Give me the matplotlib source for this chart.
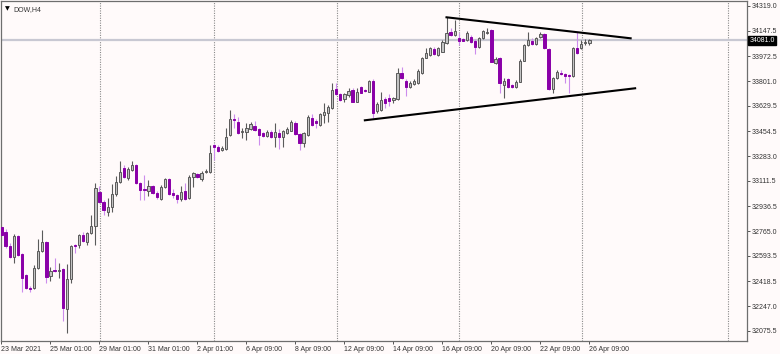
import matplotlib
import matplotlib.pyplot as plt
import numpy as np

matplotlib.use("Agg")
plt.rcParams["font.family"] = ["Liberation Sans", "DejaVu Sans"]

# H4 bars, DOW, 23 Mar 2021 .. 26 Apr 2021
opens = [
    32793, 32761, 32662, 32586, 32731, 32607, 32462, 32372, 32372, 32510,
    32628, 32690, 32455, 32496, 32490, 32503, 32227, 32434, 32669, 32669,
    32738, 32692, 32752, 32800, 33037, 32968, 32899, 32931, 33021, 33106,
    33199, 33130, 33187, 33221, 33095, 33056, 33044, 33076, 33030, 32984,
    33071, 33123, 33026, 33012, 32984, 33042, 32995, 33137, 33159, 33123,
    33171, 33175, 33359, 33348, 33325, 33334, 33428, 33539, 33520, 33451,
    33451, 33468, 33491, 33468, 33440, 33422, 33451, 33417, 33444, 33413,
    33440, 33458, 33513, 33435, 33371, 33428, 33548, 33525, 33498, 33567,
    33582, 33613, 33744, 33709, 33675, 33705, 33739, 33658, 33758, 33739,
    33727, 33803, 33594, 33601, 33677, 33682, 33670, 33675, 33854, 33803,
    33758, 33781, 33785, 33854, 33962, 33981, 34020, 33981, 34004, 34066,
    34142, 34119, 34096, 34089, 34084, 34107, 34077, 34034, 34096, 34130,
    34153, 33928, 33958, 33774, 33813, 33774, 33762, 33796, 33941, 34050,
    34079, 34055, 34107, 34126, 34020, 33744, 33820, 33858, 33848, 33843,
    33836, 34027, 34027, 34061, 34066,
]
highs = [
    32807, 32780, 32685, 32745, 32738, 32614, 32469, 32386, 32531, 32711,
    32772, 32697, 32519, 32579, 32545, 32510, 32538, 32669, 32676, 32745,
    32761, 32759, 32876, 33097, 33076, 32980, 32993, 33090, 33145, 33251,
    33221, 33208, 33251, 33228, 33104, 33152, 33118, 33083, 33042, 33083,
    33132, 33132, 33056, 33021, 33076, 33095, 33152, 33175, 33166, 33182,
    33192, 33359, 33366, 33356, 33353, 33475, 33601, 33573, 33555, 33477,
    33513, 33518, 33525, 33477, 33449, 33463, 33460, 33513, 33470, 33463,
    33482, 33532, 33525, 33442, 33449, 33567, 33573, 33539, 33580, 33647,
    33636, 33789, 33785, 33718, 33718, 33751, 33751, 33751, 33767, 33746,
    33808, 33812, 33658, 33727, 33693, 33712, 33691, 33891, 33900, 33812,
    33801, 33812, 33881, 33967, 34027, 34036, 34038, 34036, 34081, 34241,
    34165, 34222, 34131, 34098, 34148, 34119, 34091, 34105, 34153, 34165,
    34160, 33969, 33967, 33820, 33822, 33780, 33805, 33950, 34057, 34142,
    34098, 34105, 34142, 34133, 34026, 33829, 33874, 33877, 33857, 33850,
    34036, 34142, 34084, 34089, 34089,
]
lows = [
    32724, 32648, 32579, 32547, 32593, 32347, 32365, 32347, 32365, 32503,
    32621, 32408, 32421, 32483, 32441, 32146, 32062, 32407, 32614, 32648,
    32693, 32669, 32745, 32669, 32959, 32876, 32869, 32897, 33007, 33099,
    33130, 33118, 33180, 33090, 32980, 32980, 33007, 33021, 32987, 32980,
    33063, 33014, 32993, 32959, 32975, 32980, 32990, 33072, 33132, 33113,
    33166, 33168, 33256, 33311, 33318, 33325, 33421, 33477, 33435, 33408,
    33394, 33463, 33456, 33359, 33415, 33415, 33411, 33348, 33330, 33344,
    33435, 33453, 33428, 33325, 33344, 33421, 33491, 33477, 33491, 33509,
    33520, 33608, 33705, 33663, 33656, 33693, 33653, 33653, 33715, 33725,
    33722, 33544, 33578, 33594, 33613, 33629, 33647, 33667, 33815, 33698,
    33753, 33774, 33781, 33850, 33957, 33974, 33981, 33974, 33998, 34060,
    34112, 34112, 34050, 34074, 34077, 34064, 33988, 34029, 34091, 34126,
    33929, 33922, 33716, 33682, 33756, 33756, 33756, 33791, 33936, 34043,
    34050, 34050, 34101, 34022, 33739, 33716, 33815, 33843, 33785, 33716,
    33829, 33991, 34022, 34050, 34053,
]
closes = [
    32738, 32662, 32586, 32731, 32600, 32441, 32372, 32365, 32510, 32628,
    32690, 32448, 32490, 32490, 32496, 32234, 32434, 32662, 32662, 32738,
    32699, 32752, 32800, 33063, 32968, 32911, 32933, 33021, 33106, 33175,
    33137, 33194, 33221, 33099, 33049, 33052, 33078, 33030, 32998, 33071,
    33123, 33021, 33012, 32984, 33037, 32984, 33141, 33168, 33137, 33168,
    33180, 33306, 33348, 33320, 33341, 33413, 33537, 33532, 33440, 33458,
    33475, 33502, 33463, 33428, 33422, 33451, 33417, 33451, 33413, 33456,
    33468, 33518, 33435, 33371, 33440, 33555, 33498, 33509, 33573, 33589,
    33624, 33739, 33712, 33670, 33709, 33734, 33658, 33727, 33720, 33730,
    33801, 33578, 33642, 33670, 33651, 33665, 33682, 33854, 33820, 33758,
    33790, 33803, 33872, 33958, 33992, 34027, 33988, 34027, 34073, 34135,
    34119, 34148, 34079, 34079, 34130, 34073, 34036, 34096, 34146, 34142,
    33934, 33951, 33785, 33801, 33762, 33762, 33796, 33941, 34050, 34084,
    34057, 34096, 34126, 34027, 33744, 33820, 33865, 33848, 33836, 33836,
    34027, 33997, 34057, 34073, 34081,
]

time_ticks = [0, 12, 24, 36, 48, 60, 72, 84, 96, 108, 120, 132, 144]
time_labels = ["23 Mar 2021", "25 Mar 01:00", "29 Mar 01:00", "31 Mar 01:00",
               "2 Apr 01:00", "6 Apr 09:00", "8 Apr 09:00", "12 Apr 09:00",
               "14 Apr 09:00", "16 Apr 09:00", "20 Apr 09:00", "22 Apr 09:00",
               "26 Apr 09:00"]
grid_bars = [24.1, 52.1, 82.2, 112.1, 142.2, 178.0]
price_ticks = [34319.0, 34147.5, 33972.5, 33801.0, 33629.5, 33454.5, 33283.0,
               33111.5, 32936.5, 32765.0, 32593.5, 32418.5, 32247.0, 32075.5]
bid = 34081.0

# triangle trend lines (bar index, price)
upper_line_x = [109.0, 154.1]
upper_line_y = [34241, 34096]
lower_line_x = [89.0, 155.2]
lower_line_y = [33530, 33751]

BG = "#fffafa"
BULL_BODY = "#c3c3c3"
BULL_EDGE = "#5a5a5a"
BEAR_BODY = "#8a00a8"
BEAR_WICK = "#cc8ced"
TEXT = "#333333"

fig = plt.figure(figsize=(7.8, 3.54), dpi=100, facecolor=BG)
ax = fig.add_axes([1 / 780, 13 / 354, 746 / 780, 340 / 354], facecolor=BG)

o = np.array(opens, float)
h = np.array(highs, float)
l = np.array(lows, float)
c = np.array(closes, float)
x = np.arange(len(o))
up = c >= o

for gx in grid_bars:
    ax.axvline(gx, color="#8a8a8a", lw=0.8, ls=(0, (1, 1.2)), zorder=1)

ax.axhline(bid, color="#c8c8d2", lw=1.6, zorder=1)

ax.vlines(x[up], l[up], h[up], color=BULL_EDGE, lw=0.8, zorder=2)
ax.vlines(x[~up], l[~up], h[~up], color=BEAR_WICK, lw=0.8, zorder=2)

body_lo = np.minimum(o, c)
body_h = np.maximum(np.abs(c - o), 1.0)
ax.bar(x[up], body_h[up], bottom=body_lo[up], width=0.55, color=BULL_BODY,
       edgecolor=BULL_EDGE, linewidth=0.7, zorder=3)
ax.bar(x[~up], body_h[~up], bottom=body_lo[~up], width=0.55, color=BEAR_BODY,
       edgecolor=BEAR_BODY, linewidth=0.7, zorder=3)

ax.plot(upper_line_x, upper_line_y, color="black", lw=1.5, zorder=4)
ax.plot(lower_line_x, lower_line_y, color="black", lw=1.5, zorder=4)

ax.set_xlim(-0.12, 182.6)
ax.set_ylim(32006.4, 34353.5)

ax.set_xticks(time_ticks)
ax.set_xticklabels(time_labels, ha="left")
ax.yaxis.tick_right()
ax.set_yticks(price_ticks)
ax.set_yticklabels([f"{p:.1f}" for p in price_ticks])
ax.tick_params(axis="both", direction="out", length=2.2, width=0.7,
               color="#555555", labelsize=5, labelcolor=TEXT, pad=1.2)

for s in ax.spines.values():
    s.set_color("#6e6e6e")
    s.set_linewidth(0.9)

ax.annotate(f"{bid:.1f}", xy=(1.0, bid), xycoords=("axes fraction", "data"),
            xytext=(1.6, 0), textcoords="offset points", ha="left", va="center",
            fontsize=5, color="white",
            bbox=dict(boxstyle="square,pad=0.2", fc="black", ec="black"),
            annotation_clip=False)

ax.text(0.006, 0.985, "\u25bc", transform=ax.transAxes, fontsize=4.5,
        color="black", ha="left", va="top", family="DejaVu Sans")
ax.text(0.016, 0.985, "DOW,H4", transform=ax.transAxes, fontsize=5,
        color=TEXT, ha="left", va="top")

fig.savefig("out.png", dpi=100, facecolor=BG)
